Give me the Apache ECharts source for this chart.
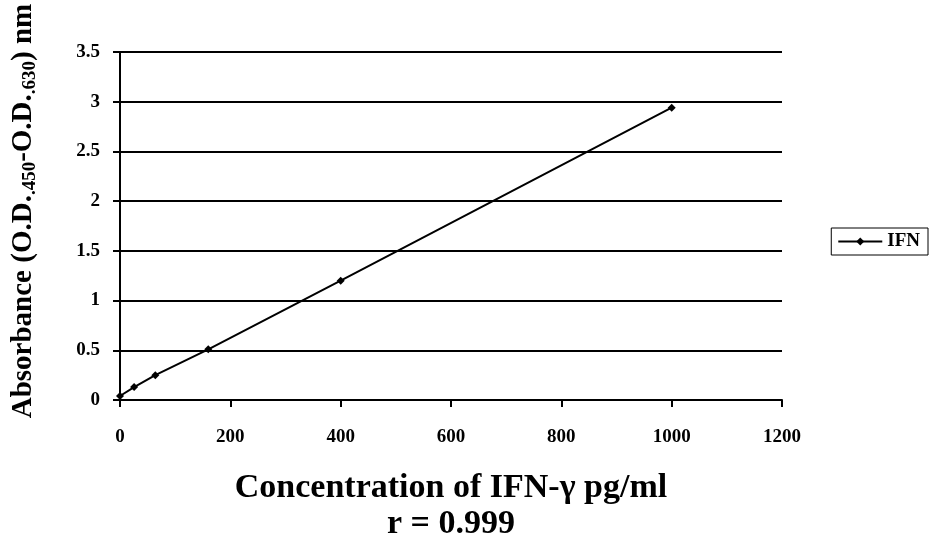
<!DOCTYPE html>
<html><head><meta charset="utf-8">
<script src="https://cdn.jsdelivr.net/npm/echarts@6/dist/echarts.min.js"></script>
<style>html,body{margin:0;padding:0;background:#fff}#c{width:930px;height:548px}</style>
</head><body><div id="c"></div>
<script>
var concentrations = [0, 25.6, 64, 160, 400, 1000];
var absorbance = [0.04, 0.13, 0.25, 0.51, 1.2, 2.94];
var seriesName = 'IFN';
var xTicks = {min: 0, max: 1200, interval: 200};
var yTicks = {min: 0, max: 3.5, interval: 0.5};

var font = '"Liberation Serif","Times New Roman",serif';
var chart = echarts.init(document.getElementById('c'));
chart.setOption({
  animation: false,
  backgroundColor: '#fff',
  textStyle: {fontFamily: font, color: '#000'},
  grid: {left: 120, right: 148, top: 52, bottom: 148, containLabel: false, outerBoundsMode: 'none'},
  legend: {
    right: 2, top: 228, orient: 'vertical',
    data: [seriesName],
    borderColor: '#000', borderWidth: 1, padding: [4, 8, 4, 6],
    itemWidth: 44, itemHeight: 10, itemGap: 4,
    textStyle: {fontFamily: font, fontWeight: 'bold', fontSize: 19, color: '#000'}
  },
  xAxis: {
    type: 'value', min: xTicks.min, max: xTicks.max, interval: xTicks.interval,
    axisLine: {show: true, lineStyle: {color: '#000', width: 2}},
    axisTick: {show: true, length: 7, lineStyle: {color: '#000', width: 2}},
    splitLine: {show: false},
    axisLabel: {fontFamily: font, fontWeight: 'bold', fontSize: 19, color: '#000', margin: 28,
      formatter: function (v) { return String(v); }},
    name: 'Concentration of IFN-γ pg/ml\nr = 0.999',
    nameLocation: 'middle', nameGap: 70,
    nameTextStyle: {fontFamily: font, fontWeight: 'bold', fontSize: 34, color: '#000', lineHeight: 36, align: 'center'}
  },
  yAxis: {
    type: 'value', min: yTicks.min, max: yTicks.max, interval: yTicks.interval,
    axisLine: {show: true, onZero: false, lineStyle: {color: '#000', width: 2}},
    axisTick: {show: true, length: 7, lineStyle: {color: '#000', width: 2}},
    splitLine: {show: true, lineStyle: {color: '#000', width: 2}},
    axisLabel: {fontFamily: font, fontWeight: 'bold', fontSize: 19, color: '#000', margin: 20},
    name: '{m|Absorbance (O.D.}{s|.450}{m|-O.D.}{s|.630}{m|) nm}',
    nameLocation: 'middle', nameGap: 80,
    nameTextStyle: {
      padding: [0, 0, 0, 30],
      rich: {
        m: {fontFamily: font, fontWeight: 'bold', fontSize: 29, color: '#000', lineHeight: 32},
        s: {fontFamily: font, fontWeight: 'bold', fontSize: 19, color: '#000', verticalAlign: 'bottom', padding: [13, 0, 0, 0], lineHeight: 32}
      }
    }
  },
  series: [{
    name: seriesName, type: 'line',
    data: concentrations.map(function (x, i) { return [x, absorbance[i]]; }),
    lineStyle: {color: '#000', width: 2},
    itemStyle: {color: '#000'},
    symbol: 'diamond', symbolSize: 8, showSymbol: true
  }]
});
</script></body></html>
